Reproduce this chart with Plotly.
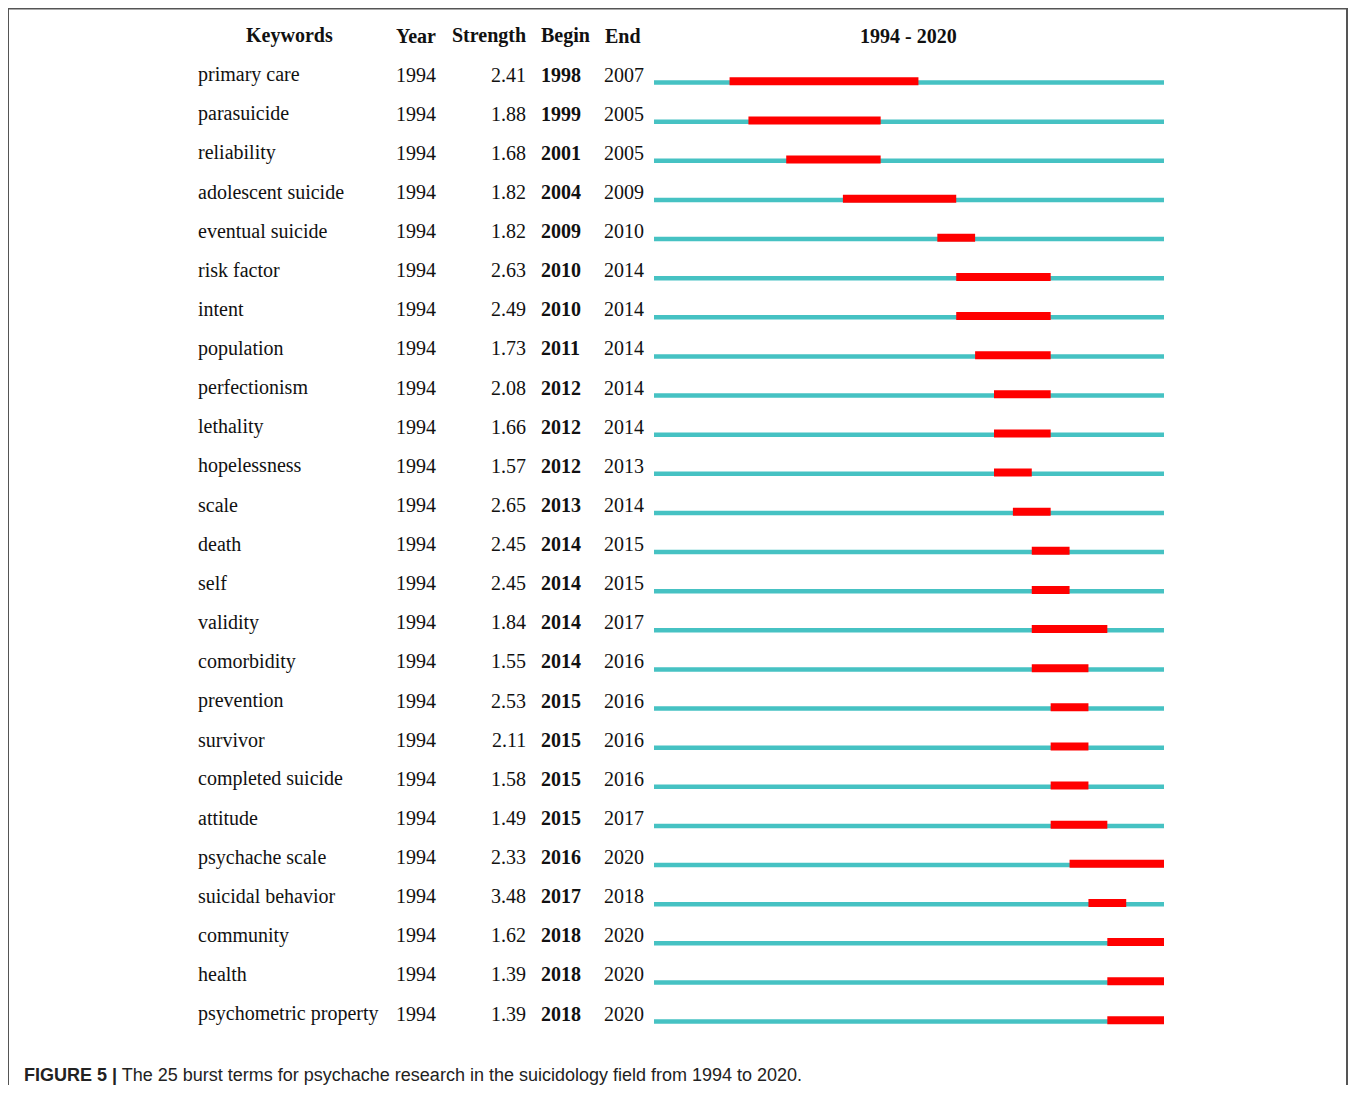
import plotly.graph_objects as go

keywords = ["primary care", "parasuicide", "reliability", "adolescent suicide", "eventual suicide",
            "risk factor", "intent", "population", "perfectionism", "lethality", "hopelessness",
            "scale", "death", "self", "validity", "comorbidity", "prevention", "survivor",
            "completed suicide", "attitude", "psychache scale", "suicidal behavior", "community",
            "health", "psychometric property"]
year = [1994] * 25
strength = [2.41, 1.88, 1.68, 1.82, 1.82, 2.63, 2.49, 1.73, 2.08, 1.66, 1.57, 2.65, 2.45, 2.45,
            1.84, 1.55, 2.53, 2.11, 1.58, 1.49, 2.33, 3.48, 1.62, 1.39, 1.39]
begin = [1998, 1999, 2001, 2004, 2009, 2010, 2010, 2011, 2012, 2012, 2012, 2013, 2014, 2014,
         2014, 2014, 2015, 2015, 2015, 2015, 2016, 2017, 2018, 2018, 2018]
end = [2007, 2005, 2005, 2009, 2010, 2014, 2014, 2014, 2014, 2014, 2013, 2014, 2015, 2015,
       2017, 2016, 2016, 2016, 2016, 2017, 2020, 2018, 2020, 2020, 2020]
period_start, period_end = 1994, 2020
headers = ["Keywords", "Year", "Strength", "Begin", "End"]
caption_bold = "FIGURE 5 |"
caption_text = " The 25 burst terms for psychache research in the suicidology field from 1994 to 2020."

# the page body adds an 8px margin; figure sized and positioned to compensate
OFF = 8
W, H = 1358 - OFF, 1093 - 2 * OFF
n = len(keywords)
rows = list(range(n))
row0_px, row_step = 82.5, 39.125

def px_x(p):
    return (p - OFF) / W

def px_y(p):
    return 1 - (p - OFF) / H

fig = go.Figure()
fig.add_trace(go.Bar(
    y=rows, x=[period_end + 1 - period_start] * n, base=[period_start] * n,
    orientation="h", width=4.5 / row_step, marker=dict(color="#46C2C3", line=dict(width=0)),
    hoverinfo="skip", showlegend=False))
fig.add_trace(go.Bar(
    y=rows, x=[e + 1 - b for b, e in zip(begin, end)], base=begin,
    orientation="h", width=8 / row_step, offset=-4 / row_step - 1.2 / row_step,
    marker=dict(color="#FF0000", line=dict(width=0)),
    hoverinfo="skip", showlegend=False))

font_s = "Liberation Serif"
fs = 20
tc = "#111111"
ann = []
for i in rows:
    common = dict(yref="y", y=i, xref="paper", showarrow=False, yshift=8, yanchor="middle")
    ann.append(dict(text=keywords[i], x=px_x(196), xanchor="left",
                    font=dict(family=font_s, size=fs, color=tc), **common))
    ann.append(dict(text=str(year[i]), x=px_x(394), xanchor="left",
                    font=dict(family=font_s, size=fs, color=tc), **common))
    ann.append(dict(text=f"{strength[i]:.2f}", x=px_x(528), xanchor="right",
                    font=dict(family=font_s, size=fs, color=tc), **common))
    ann.append(dict(text=f"<b>{begin[i]}</b>", x=px_x(539), xanchor="left",
                    font=dict(family=font_s, size=fs, color=tc), **common))
    ann.append(dict(text=str(end[i]), x=px_x(602), xanchor="left",
                    font=dict(family=font_s, size=fs, color=tc), **common))

hdr_y = px_y(36)
hdr_pos = [(289, "center"), (394, "left"), (528, "right"), (539, "left"), (603, "left")]
for h, (xp, xa) in zip(headers, hdr_pos):
    ann.append(dict(text=f"<b>{h}</b>", x=px_x(xp), xanchor=xa, xref="paper", yref="paper",
                    y=hdr_y, yanchor="middle", showarrow=False,
                    font=dict(family=font_s, size=fs, color=tc)))
ann.append(dict(text=f"<b>{period_start} - {period_end}</b>", x=px_x(908), xanchor="center",
                xref="paper", yref="paper", y=hdr_y, yanchor="middle", showarrow=False,
                font=dict(family=font_s, size=fs, color=tc)))
ann.append(dict(text=f"<b>{caption_bold}</b>{caption_text}", x=px_x(22), xanchor="left",
                xref="paper", yref="paper", y=px_y(1075), yanchor="middle", showarrow=False,
                font=dict(family="Liberation Sans", size=18, color="#222222")))

y_lo = -(row0_px - OFF) / row_step
y_hi = (H - (row0_px - OFF)) / row_step

fig.update_layout(
    width=W, height=H, margin=dict(l=0, r=0, t=0, b=0),
    paper_bgcolor="white", plot_bgcolor="white", barmode="overlay",
    xaxis=dict(domain=[px_x(654), px_x(1164)], range=[period_start, period_end + 1],
               visible=False, fixedrange=True),
    yaxis=dict(domain=[0, 1], range=[y_hi, y_lo], visible=False, fixedrange=True),
    annotations=ann,
    shapes=[dict(type="rect", xref="paper", yref="paper", x0=px_x(8), x1=px_x(1347),
                 y0=-0.05, y1=px_y(8.5), line=dict(color="#555555", width=2),
                 fillcolor="rgba(0,0,0,0)")],
)

fig.write_html("out.html")
